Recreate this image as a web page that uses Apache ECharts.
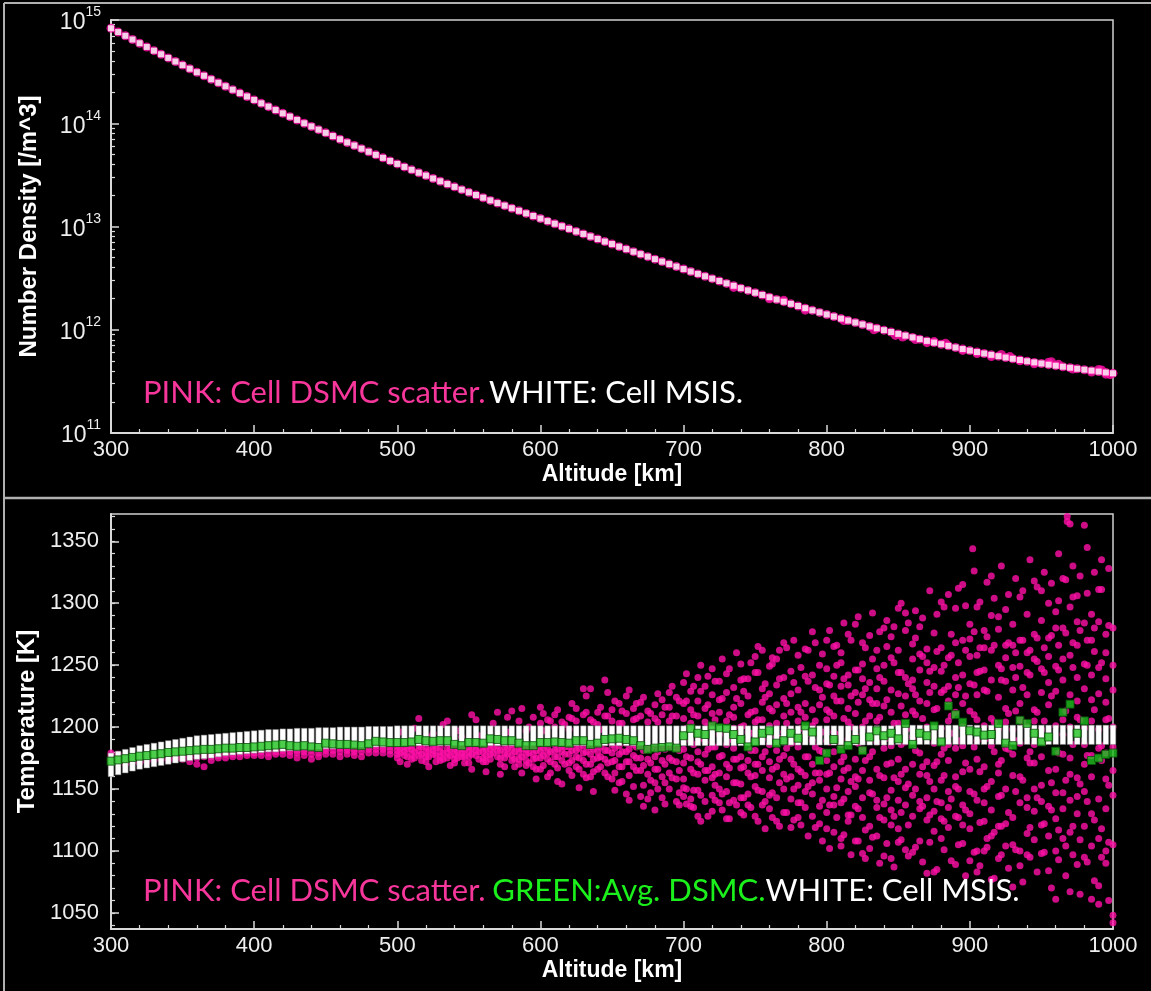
<!DOCTYPE html>
<html>
<head>
<meta charset="utf-8">
<title>DSMC vs MSIS</title>
<script src="https://cdn.jsdelivr.net/npm/echarts@6/dist/echarts.min.js"></script>
<style>
  html, body { margin: 0; padding: 0; background: #000; }
  #chart { width: 1151px; height: 991px; }
</style>
</head>
<body>
<div id="chart"></div>
<script>
// altitude of each cell column [km]
const altitudes = [
  300,305,310,315,320,325,330,335,340,345,350,355,360,365,370,375,380,385,390,395,
  400,405,410,415,420,425,430,435,440,445,450,455,460,465,470,475,480,485,490,495,
  500,505,510,515,520,525,530,535,540,545,550,555,560,565,570,575,580,585,590,595,
  600,605,610,615,620,625,630,635,640,645,650,655,660,665,670,675,680,685,690,695,
  700,705,710,715,720,725,730,735,740,745,750,755,760,765,770,775,780,785,790,795,
  800,805,810,815,820,825,830,835,840,845,850,855,860,865,870,875,880,885,890,895,
  900,905,910,915,920,925,930,935,940,945,950,955,960,965,970,975,980,985,990,995,
  1000
];

// log10 of MSIS number density [/m^3]
const msisLogDensity = [
  14.920,14.883,14.847,14.811,14.775,14.739,14.703,14.668,14.633,14.598,14.563,14.528,14.494,14.460,14.426,14.392,14.358,14.325,14.292,14.259,
  14.226,14.193,14.161,14.128,14.096,14.064,14.032,14.000,13.969,13.938,13.907,13.876,13.845,13.814,13.784,13.754,13.724,13.694,13.665,13.635,
  13.606,13.577,13.549,13.521,13.493,13.465,13.438,13.411,13.384,13.357,13.331,13.305,13.279,13.253,13.227,13.202,13.177,13.152,13.127,13.102,
  13.077,13.052,13.027,13.002,12.977,12.952,12.928,12.903,12.879,12.854,12.830,12.805,12.781,12.756,12.732,12.708,12.684,12.660,12.636,12.612,
  12.588,12.564,12.541,12.518,12.495,12.472,12.449,12.426,12.403,12.381,12.359,12.337,12.315,12.293,12.272,12.251,12.230,12.209,12.188,12.168,
  12.148,12.128,12.108,12.089,12.070,12.051,12.032,12.014,11.996,11.978,11.960,11.943,11.926,11.909,11.892,11.876,11.860,11.844,11.828,11.813,
  11.798,11.784,11.770,11.757,11.744,11.731,11.719,11.707,11.695,11.684,11.673,11.662,11.652,11.642,11.632,11.622,11.613,11.604,11.595,11.586,
  11.578
];

// DSMC cells whose density strays off the MSIS curve [alt, log10 n]
const dsmcDensityStray = [
  [735,12.41],[760,12.30],[770,12.285],[785,12.19],[812,12.09],[833,12.00],[848,11.945],[853,11.93],
  [862,11.905],[870,11.875],[875,11.885],[883,11.87],[895,11.80],[905,11.77],[915,11.74],[922,11.76],
  [928,11.74],[935,11.70],[945,11.67],[955,11.685],[957,11.69],[962,11.665],[972,11.62],[985,11.59],
  [990,11.615],[992,11.61],[995,11.57],[998,11.565]
];

// MSIS temperature band per column [K]
const msisTempLow = [
  1160,1161.5,1163,1164.5,1166,1167,1168,1169,1170,1171,1172,1173,1174,1174.5,1175,1176,1177,1177.5,1178,1178.5,
  1179,1179.5,1180,1180,1180.5,1181,1181,1181.5,1182,1182,1182.5,1182.5,1183,1183,1183.5,1183.5,1184,1184,1184,1184.5,
  1184.5,1185,1185,1185,1185,1185,1185,1185,1185,1185,1185,1185,1185,1185,1185,1185,1185,1185,1185,1185,
  1185,1185,1185,1185,1185,1185,1185,1185,1185,1185,1185,1185,1185,1185,1185,1185,1185,1185,1185,1185,
  1185,1185,1185,1185,1185,1185,1185,1185,1185,1185,1185.5,1185.5,1185.5,1185.5,1185.5,1185.5,1185.5,1185.5,1185.5,1185.5,
  1185.5,1185.5,1185.5,1185.5,1185.5,1185.5,1185.5,1185.5,1185.5,1185.5,1186,1186,1186,1186,1186,1186,1186,1186,1186,1186,
  1186,1186,1186,1186,1186,1186,1186,1186,1186,1186,1186,1186,1186,1186,1186,1186,1186,1186,1186,1186,
  1186
];
const msisTempHigh = [
  1179,1180.5,1182,1183.5,1185,1186,1187,1188,1189,1190,1191,1192,1193,1193.5,1194,1194.5,1195,1195.5,1196,1196.5,
  1197,1197.5,1198,1198,1198.5,1198.5,1199,1199,1199,1199.5,1199.5,1199.5,1200,1200,1200,1200,1200.5,1200.5,1200.5,1200.5,
  1201,1201,1201,1201,1201,1201,1201,1201,1201,1201,1201,1201,1201,1201,1201,1201,1201,1201,1201,1201,
  1201,1201,1201,1201,1201,1201,1201,1201,1201,1201,1201,1201,1201,1201,1201,1201,1201,1201,1201,1201,
  1201,1201,1201,1201,1201,1201,1201,1201,1201,1201,1201,1201,1201,1201,1201,1201,1201,1201,1201,1201,
  1201,1201,1201,1201,1201,1201,1201,1201,1201,1201,1201.5,1201.5,1201.5,1201.5,1201.5,1201.5,1201.5,1201.5,1201.5,1201.5,
  1201.5,1201.5,1201.5,1201.5,1201.5,1201.5,1201.5,1201.5,1201.5,1201.5,1201.5,1201.5,1201.5,1201.5,1201.5,1201.5,1201.5,1201.5,1201.5,1201.5,
  1201.5
];

// averaged DSMC temperature per column [K]
const avgDsmcTemp = [
  1172.5,1173.5,1174.5,1175.5,1176.5,1177,1178,1178.5,1179.5,1180,1180.5,1181,1181.5,1182,1182,1182.5,1183,1183,1183.5,1183.5,
  1184,1184.5,1185,1185.5,1186,1185,1184.5,1185,1184,1183.5,1187,1186.5,1186,1186,1185.5,1185,1186.5,1188.5,1188,1187.5,
  1187.5,1187.5,1188,1190,1189,1188.5,1189,1189,1186,1185,1187.5,1187.5,1187,1190.5,1190,1189,1189,1187,1185,1185,
  1187.5,1187.5,1188,1187.5,1187,1189,1189,1186,1187,1190,1190.5,1191,1190,1189,1185,1182,1183,1183.5,1184,1183,
  1193,1199,1195,1194,1201,1199.5,1199,1194,1190,1184,1188,1195,1197,1187,1189,1195,1191,1201,1196,1173,
  1179,1190,1182,1185,1190,1181,1192,1197,1193,1195,1190.5,1203,1186,1195,1193,1201,1188,1217,1210,1204,
  1197,1196,1193.5,1194,1203,1187,1185,1205.5,1203,1195,1188,1192,1180.5,1212,1218.5,1195,1205,1173,1175,1178,
  1179
];

// DSMC cell temperatures, grouped by altitude column [alt, [T...]]
const dsmcTempCells = [
  [300,[1179,1177,1174]],[305,[1178,1175,1172]],[310,[1176,1173,1170]],[315,[1175,1172,1177]],
  [320,[1176,1173,1171]],[325,[1177,1174,1172]],[330,[1178,1175,1173]],[335,[1177,1174,1179]],
  [340,[1178,1175,1173]],[345,[1178,1176,1174]],[350,[1179,1176,1174]],[355,[1177,1175,1172]],
  [360,[1178,1175,1170]],[365,[1179,1176,1168]],[370,[1178,1176,1173]],[375,[1180,1177,1175]],
  [380,[1180,1178,1175]],[385,[1181,1178,1176]],[390,[1181,1179,1176]],[395,[1182,1179,1177]],
  [400,[1181,1179,1177]],[405,[1182,1180,1177]],[410,[1182,1179,1176]],[415,[1183,1180,1178]],
  [420,[1183,1181,1178]],[425,[1182,1180,1177]],[430,[1181,1179,1175]],[435,[1182,1180,1177]],
  [440,[1181,1178,1174]],[445,[1182,1179,1176]],[450,[1183,1181,1178]],[455,[1184,1181,1178]],
  [460,[1183,1180,1176]],[465,[1183,1181,1178]],[470,[1182,1180,1177]],[475,[1183,1180,1176]],
  [480,[1184,1182,1179]],[485,[1185,1182,1179]],[490,[1184,1182,1179]],[495,[1184,1181,1178]],
  [500,[1184,1181,1178,1175]],[505,[1184,1180,1177,1190]],[510,[1185,1182,1178,1174]],[515,[1185,1181,1177,1207]],
  [520,[1184,1180,1176,1172]],[525,[1185,1181,1178,1195]],[530,[1184,1180,1176,1173]],[535,[1183,1179,1175,1205]],
  [540,[1182,1178,1174,1171]],[545,[1183,1179,1176,1192]],[550,[1184,1180,1176,1171]],[555,[1185,1181,1177,1206]],
  [560,[1184,1180,1175,1172]],[565,[1186,1182,1178,1174]],[570,[1185,1181,1176,1212]],[575,[1184,1179,1175,1168]],
  [580,[1186,1182,1177,1213,1173]],[585,[1183,1179,1174,1170,1205]],[590,[1182,1178,1173,1169,1197]],[595,[1183,1178,1174,1208,1168]],
  [600,[1185,1180,1175,1216,1166,1203]],[605,[1184,1179,1174,1160,1206]],[610,[1186,1181,1176,1170,1210,1200]],[615,[1185,1180,1173,1154,1204]],
  [620,[1184,1178,1171,1165,1208,1198]],[625,[1186,1181,1176,1168,1215,1205]],[630,[1185,1179,1173,1162,1210,1231]],[635,[1184,1178,1170,1160,1206,1231]],
  [640,[1186,1180,1175,1166,1212,1202]],[645,[1187,1181,1174,1163,1238,1209]],[650,[1186,1179,1172,1158,1214,1205]],[655,[1185,1178,1168,1155,1219,1203]],
  [660,[1187,1180,1172,1146,1211,1225]],[665,[1186,1177,1168,1152,1215,1206]],[670,[1184,1175,1165,1144,1209,1220]],[675,[1183,1174,1162,1142,1213,1204]],
  [680,[1185,1176,1166,1133,1218,1207,1155]],[685,[1184,1173,1160,1143,1222,1210]],[690,[1186,1175,1163,1150,1216,1205,1228]],[695,[1183,1172,1158,1140,1224,1209]],
  [700,[1193,1158,1207,1171,1236,1144,1219,1182,1151]],[705,[1166,1214,1189,1142,1229,1175,1203,1136]],
  [710,[1221,1149,1180,1240,1162,1196,1128,1209,1172]],[715,[1178,1233,1157,1204,1140,1188,1215,1165]],
  [720,[1145,1201,1226,1168,1184,1132,1247,1159,1211]],[725,[1212,1163,1139,1194,1237,1176,1150,1222]],
  [730,[1170,1228,1186,1148,1205,1126,1243,1160,1197]],[735,[1199,1141,1216,1174,1155,1232,1183,1208]],
  [740,[1154,1238,1167,1200,1131,1219,1176,1251,1143]],[745,[1225,1173,1146,1210,1189,1163,1239,1137,1196]],
  [750,[1181,1244,1152,1213,1128,1170,1204,1257,1161]],[755,[1137,1206,1231,1165,1190,1148,1220,1176,1262]],
  [760,[1215,1159,1186,1249,1134,1201,1172,1227,1145]],[765,[1168,1234,1143,1192,1218,1124,1181,1255,1203]],
  [770,[1209,1150,1240,1177,1131,1223,1162,1196,1268]],[775,[1142,1198,1227,1160,1245,1187,1119,1212,1174]],
  [780,[1230,1166,1139,1205,1258,1153,1184,1216,1127]],[785,[1176,1219,1148,1263,1194,1135,1208,1161,1241]],
  [790,[1155,1242,1189,1128,1214,1170,1277,1146,1201]],[795,[1218,1163,1136,1250,1181,1122,1230,1195,1157]],
  [800,[1173,1235,1118,1206,1150,1270,1189,1131,1247,1162,1214]],[805,[1241,1144,1196,1115,1225,1168,1265,1137,1209,1180]],
  [810,[1158,1221,1104,1252,1186,1139,1233,1172,1110,1260]],[815,[1204,1129,1275,1167,1242,1148,1215,1190,1124,1234]],
  [820,[1136,1283,1193,1152,1228,1108,1174,1246,1211,1160]],[825,[1226,1165,1098,1239,1182,1143,1268,1200,1127,1251]],
  [830,[1147,1209,1274,1120,1236,1176,1157,1222,1102,1190]],[835,[1262,1135,1188,1231,1112,1205,1166,1247,1141,1219]],
  [840,[1183,1250,1125,1096,1217,1280,1159,1197,1138,1237]],[845,[1121,1230,1171,1273,1149,1212,1094,1256,1185,1133]],
  [850,[1244,1156,1296,1118,1203,1174,1262,1141,1227,1190,1107]],[855,[1166,1225,1137,1292,1188,1101,1240,1151,1210,1278]],
  [860,[1213,1099,1255,1170,1231,1128,1267,1192,1145,1238]],[865,[1140,1281,1197,1108,1246,1162,1221,1134,1259,1179]],
  [870,[1252,1172,1082,1219,1143,1263,1125,1200,1236,1161]],[875,[1187,1083,1233,1150,1276,1116,1214,1169,1248,1132]],
  [880,[1126,1245,1301,1178,1110,1228,1157,1264,1199,1139]],[885,[1233,1148,1307,1119,1205,1256,1173,1135,1221,1186]],
  [890,[1160,1268,1089,1212,1240,1128,1183,1296,1152,1226]],[895,[1242,1106,1185,1315,1164,1219,1137,1270,1200,1121]],
  [900,[1130,1257,1198,1118,1235,1166,1283,1148,1213,1092,1271]],[902,[1344]],
  [905,[1206,1100,1258,1174,1297,1141,1226,1083,1189,1244]],[910,[1150,1278,1124,1201,1246,1100,1168,1230,1139,1264]],
  [915,[1262,1185,1112,1322,1156,1238,1077,1207,1133,1290]],[920,[1120,1224,1289,1170,1094,1250,1199,1144,1279,1163]],
  [925,[1215,1295,1150,1266,1122,1183,1237,1104,1204,1256]],[930,[1161,1105,1248,1198,1283,1127,1230,1071,1178,1266]],
  [935,[1270,1187,1100,1305,1139,1219,1160,1249,1088,1206]],[940,[1135,1260,1200,1114,1291,1175,1226,1143,1244,1097]],
  [945,[1205,1318,1132,1171,1109,1275,1214,1150,1255,1186]],[950,[1098,1228,1286,1153,1198,1121,1247,1176,1310,1140]],
  [955,[1272,1190,1084,1300,1136,1218,1165,1257,1112,1236]],[960,[1126,1249,1166,1293,1100,1201,1229,1147,1280,1061]],
  [965,[1255,1147,1206,1110,1280,1178,1320,1134,1238,1194]],[968,[1366,1370]],
  [970,[1175,1297,1067,1226,1141,1364,1200,1115,1258,1162]],[975,[1208,1144,1306,1089,1240,1266,1159,1221,1130,1285]],
  [980,[1120,1251,1363,1186,1095,1231,1148,1284,1199,1170]],[985,[1242,1160,1061,1291,1205,1130,1270,1177,1222,1104]],
  [990,[1110,1198,1285,1057,1248,1142,1227,1072,1183,1311]],[995,[1260,1090,1206,1158,1275,1100,1239,1179,1134,1220]],
  [1000,[1145,1280,1042,1230,1105,1200,1250,1165,1048,1184]],
  // cells sitting between the 5 km columns
  [502,[1183,1179,1172,1196]],[507,[1182,1176,1186,1170]],[512,[1180,1175,1199]],[517,[1184,1178,1173]],
  [522,[1181,1176,1192,1168]],[527,[1183,1177,1172]],[532,[1179,1174,1202]],[537,[1182,1177,1169]],
  [542,[1184,1180,1175,1197]],[547,[1181,1176,1171]],[552,[1183,1178,1166,1210]],[557,[1180,1174,1193]],
  [562,[1182,1177,1172,1164]],[567,[1184,1179,1203]],[572,[1181,1175,1170,1162]],[577,[1183,1178,1196,1208]],
  [582,[1180,1174,1168]],[587,[1182,1176,1163,1215]],[592,[1184,1179,1171,1200]],[597,[1181,1175,1166,1158]],
  [602,[1183,1177,1169,1211,1197]],[607,[1180,1172,1163,1205]],[612,[1182,1176,1167,1214,1156]],[617,[1184,1178,1170,1202]],
  [622,[1181,1173,1161,1219,1207]],[627,[1183,1175,1166,1151]],[632,[1180,1170,1159,1212,1225]],[637,[1182,1174,1164,1204,1148]],
  [642,[1184,1176,1168,1216,1198]],[647,[1181,1171,1160,1209,1228]],[652,[1183,1173,1163,1149,1221]],[657,[1180,1168,1156,1213,1203]],
  [662,[1182,1172,1161,1230,1141]],[667,[1184,1175,1165,1207,1219]],[672,[1181,1169,1153,1136,1224]],[677,[1183,1171,1157,1211,1147]],
  [682,[1180,1166,1150,1227,1204]],[687,[1182,1170,1155,1138,1216]],[692,[1184,1173,1159,1233,1209]],[697,[1181,1165,1147,1221,1137]],
  [702,[1176,1221,1150,1199,1138,1243]],[707,[1210,1163,1233,1135,1186,1149]],[712,[1145,1229,1191,1170,1250,1124]],
  [717,[1201,1128,1241,1165,1218,1182]],[722,[1162,1237,1141,1206,1184,1153]],[727,[1223,1177,1133,1255,1198,1146]],
  [732,[1139,1210,1247,1167,1126,1190]],[737,[1195,1260,1155,1223,1174,1137]],[742,[1229,1143,1201,1129,1239,1168]],
  [747,[1160,1252,1181,1212,1135,1195]],[752,[1206,1124,1244,1170,1265,1149]],[757,[1140,1197,1235,1118,1180,1224]],
  [762,[1251,1166,1127,1213,1147,1256]],[767,[1174,1239,1120,1191,1262,1155]],[772,[1219,1131,1203,1264,1158,1183]],
  [777,[1150,1270,1188,1125,1236,1170]],[782,[1199,1121,1248,1164,1212,1139]],[787,[1237,1176,1112,1262,1195,1152]],
  [792,[1163,1268,1205,1119,1232,1184]],[797,[1224,1108,1180,1259,1141,1196]],
  [802,[1137,1278,1212,1163,1102,1234,1188]],[807,[1250,1127,1194,1266,1151,1221]],[812,[1176,1284,1113,1239,1142,1207,1165]],
  [817,[1225,1097,1270,1156,1200,1129]],[822,[1158,1289,1187,1108,1246,1220,1134]],[827,[1264,1117,1205,1094,1231,1173]],
  [832,[1146,1292,1219,1111,1180,1255,1194]],[837,[1240,1161,1090,1277,1127,1208]],[842,[1191,1106,1265,1143,1222,1286,1170]],
  [847,[1128,1252,1087,1203,1281,1159]],[852,[1217,1300,1131,1244,1109,1186,1162]],[857,[1154,1096,1284,1199,1235,1121]],
  [862,[1272,1103,1226,1150,1294,1181,1210]],[867,[1136,1257,1091,1207,1168,1288]],[872,[1245,1310,1129,1193,1107,1228,1156]],
  [877,[1172,1085,1261,1140,1291,1215]],[882,[1101,1230,1297,1183,1124,1250,1161]],[887,[1258,1142,1209,1092,1275,1195]],
  [892,[1189,1312,1105,1252,1150,1232,1127]],[897,[1133,1225,1080,1298,1171,1262]],
  [903,[1277,1099,1326,1210,1146,1184,1234]],[907,[1164,1301,1088,1245,1123,1264]],[912,[1229,1103,1317,1191,1152,1273,1110]],
  [917,[1115,1266,1078,1204,1304,1180]],[922,[1247,1330,1145,1097,1238,1173,1120]],[927,[1182,1086,1268,1211,1307,1131]],
  [932,[1101,1320,1240,1189,1148,1260,1213]],[937,[1270,1075,1204,1310,1157,1232]],[942,[1180,1335,1095,1262,1119,1242,1171]],
  [947,[1083,1253,1212,1313,1143,1272]],[952,[1244,1099,1325,1188,1264,1122,1205]],[957,[1155,1274,1070,1316,1225,1133]],
  [962,[1266,1340,1093,1179,1246,1117,1302]],[967,[1104,1213,1276,1080,1319,1157]],[972,[1248,1330,1097,1186,1268,1120,1305]],
  [977,[1065,1278,1206,1322,1154,1109]],[982,[1250,1091,1345,1177,1308,1140,1270]],[987,[1214,1076,1280,1125,1325,1261]],
  [992,[1095,1335,1185,1252,1118,1311,1173]],[997,[1207,1060,1282,1153,1328,1107]]
];

const densityExponents = [11, 12, 13, 14, 15];
const tempTickLabels = [1050, 1100, 1150, 1200, 1250, 1300, 1350];

const PINK = '#ff10a8';
const AXIS = '#d9d9d9';
const NUM_FONT = 'Liberation Sans, Arial, sans-serif';
const NOTE_FONT = 'Lato, "Open Sans", sans-serif';

// minor log ticks (2..9 in each decade)
const logMinor = [];
densityExponents.slice(0, -1).forEach(e => {
  for (let k = 2; k <= 9; k++) logMinor.push(e + Math.log10(k));
});
const tempMinor = [];
for (let t = 1040; t <= 1370; t += 10) tempMinor.push(t);

const msisDensityPts = altitudes.map((a, i) => [a, msisLogDensity[i]]);
const dsmcDensityPts = msisDensityPts.concat(dsmcDensityStray);
const msisTempBand = altitudes.map((a, i) => [a, msisTempLow[i], msisTempHigh[i]]);
const avgTempPts = altitudes.map((a, i) => [a, avgDsmcTemp[i]]);
const dsmcTempPts = [];
dsmcTempCells.forEach(c => c[1].forEach(t => dsmcTempPts.push([c[0], t])));

const chart = echarts.init(document.getElementById('chart'));

function xAxisFor(gridIndex) {
  return {
    gridIndex: gridIndex,
    type: 'value',
    min: 300, max: 1000, interval: 100,
    name: 'Altitude [km]',
    nameLocation: 'middle',
    nameGap: 30,
    nameTextStyle: { color: '#fff', fontSize: 23, fontWeight: 'bold', fontFamily: NUM_FONT },
    axisLine: { show: true, lineStyle: { color: AXIS, width: 2 } },
    axisTick: { show: true, inside: true, length: 8, lineStyle: { color: AXIS, width: 1.5 } },
    minorTick: { show: true, splitNumber: 5, length: 4, lineStyle: { color: AXIS, width: 1.2 } },
    axisLabel: { color: '#eee', fontSize: 22, fontFamily: NUM_FONT, margin: 6, formatter: v => String(v) },
    splitLine: { show: false }
  };
}

const option = {
  backgroundColor: '#000',
  animation: false,
  grid: [
    { left: 111, top: 20, width: 1002, height: 413, show: true, borderColor: '#cfcfcf', borderWidth: 1.5 },
    { left: 111, top: 514, width: 1002, height: 415, show: true, borderColor: '#cfcfcf', borderWidth: 1.5 }
  ],
  xAxis: [xAxisFor(0), xAxisFor(1)],
  yAxis: [
    {
      gridIndex: 0, type: 'value', min: 11, max: 15, interval: 1, position: 'left',
      name: 'Number Density [/m^3]', nameLocation: 'middle', nameGap: 70,
      nameTextStyle: { color: '#fff', fontSize: 24, fontWeight: 'bold', fontFamily: NUM_FONT },
      axisLine: { show: true, lineStyle: { color: AXIS, width: 2 } },
      axisTick: { show: true, inside: true, length: 8, lineStyle: { color: AXIS, width: 1.5 } },
      axisLabel: {
        margin: 10,
        formatter: v => '{b|10}{s|' + v + '}',
        rich: {
          b: { color: '#eee', fontSize: 23, fontFamily: NUM_FONT, padding: [6, 0, 0, 0] },
          s: { color: '#eee', fontSize: 14, fontFamily: NUM_FONT, verticalAlign: 'top' }
        }
      },
      splitLine: { show: false }
    },
    {
      gridIndex: 0, type: 'value', min: 11, max: 15, position: 'left',
      axisLine: { show: false },
      axisLabel: { show: false },
      axisTick: { show: true, inside: true, length: 4, customValues: logMinor, lineStyle: { color: AXIS, width: 1.2 } },
      splitLine: { show: false }
    },
    {
      gridIndex: 1, type: 'value', min: 1037, max: 1372, position: 'left',
      name: 'Temperature [K]', nameLocation: 'middle', nameGap: 70,
      nameTextStyle: { color: '#fff', fontSize: 24, fontWeight: 'bold', fontFamily: NUM_FONT },
      axisLine: { show: true, lineStyle: { color: AXIS, width: 2 } },
      axisTick: { show: true, inside: true, length: 8, customValues: tempTickLabels, lineStyle: { color: AXIS, width: 1.5 } },
      axisLabel: { color: '#eee', fontSize: 22, fontFamily: NUM_FONT, margin: 12, customValues: tempTickLabels, formatter: v => String(v) },
      splitLine: { show: false }
    },
    {
      gridIndex: 1, type: 'value', min: 1037, max: 1372, position: 'left',
      axisLine: { show: false },
      axisLabel: { show: false },
      axisTick: { show: true, inside: true, length: 4, customValues: tempMinor, lineStyle: { color: AXIS, width: 1.2 } },
      splitLine: { show: false }
    }
  ],
  series: [
    {
      name: 'DSMC density', type: 'scatter', xAxisIndex: 0, yAxisIndex: 0,
      data: dsmcDensityPts, symbol: 'circle', symbolSize: 9,
      itemStyle: { color: PINK }, z: 2
    },
    {
      name: 'MSIS density', type: 'scatter', xAxisIndex: 0, yAxisIndex: 0,
      data: msisDensityPts, symbol: 'rect', symbolSize: 6,
      itemStyle: { color: '#fff' }, z: 3
    },
    {
      name: 'DSMC temperature', type: 'scatter', xAxisIndex: 1, yAxisIndex: 2,
      data: dsmcTempPts, symbol: 'circle', symbolSize: 7,
      itemStyle: { color: PINK }, z: 2
    },
    {
      name: 'MSIS temperature', type: 'custom', xAxisIndex: 1, yAxisIndex: 2,
      data: msisTempBand,
      renderItem: function (params, api) {
        const top = api.coord([api.value(0), api.value(2)]);
        const bot = api.coord([api.value(0), api.value(1)]);
        const w = api.size([5, 0])[0] * 0.78;
        return {
          type: 'rect',
          shape: { x: top[0] - w / 2, y: top[1], width: w, height: bot[1] - top[1] },
          style: { fill: '#fff', stroke: '#888', lineWidth: 0.5 }
        };
      },
      z: 3
    },
    {
      name: 'Avg DSMC temperature', type: 'scatter', xAxisIndex: 1, yAxisIndex: 2,
      data: avgTempPts, symbol: 'rect', symbolSize: 8,
      itemStyle: { color: '#1fc01f', borderColor: '#0b4f0b', borderWidth: 1 }, z: 4
    }
  ],
  graphic: [
    { type: 'line', shape: { x1: 4, y1: 3, x2: 1151, y2: 3 }, style: { stroke: '#b0b0b0', lineWidth: 2 } },
    { type: 'line', shape: { x1: 4, y1: 3, x2: 4, y2: 991 }, style: { stroke: '#b0b0b0', lineWidth: 2 } },
    { type: 'line', shape: { x1: 4, y1: 498, x2: 1151, y2: 498 }, style: { stroke: '#b0b0b0', lineWidth: 2.5 } },
    {
      type: 'text', left: 143, top: 377, z: 10,
      style: {
        text: '{p|PINK: Cell DSMC scatter.} {w|WHITE: Cell MSIS.}',
        rich: {
          p: { fill: '#f7369b', fontSize: 31, fontFamily: NOTE_FONT },
          w: { fill: '#ffffff', fontSize: 31, fontFamily: NOTE_FONT }
        }
      }
    },
    {
      type: 'text', left: 143, top: 875, z: 10,
      style: {
        text: '{p|PINK: Cell DSMC scatter.}  {g|GREEN:Avg. DSMC.}{w|WHITE: Cell MSIS.}',
        rich: {
          p: { fill: '#f7369b', fontSize: 31, fontFamily: NOTE_FONT },
          g: { fill: '#1cf01c', fontSize: 31, fontFamily: NOTE_FONT },
          w: { fill: '#ffffff', fontSize: 31, fontFamily: NOTE_FONT }
        }
      }
    }
  ]
};

chart.setOption(option);
</script>
</body>
</html>
